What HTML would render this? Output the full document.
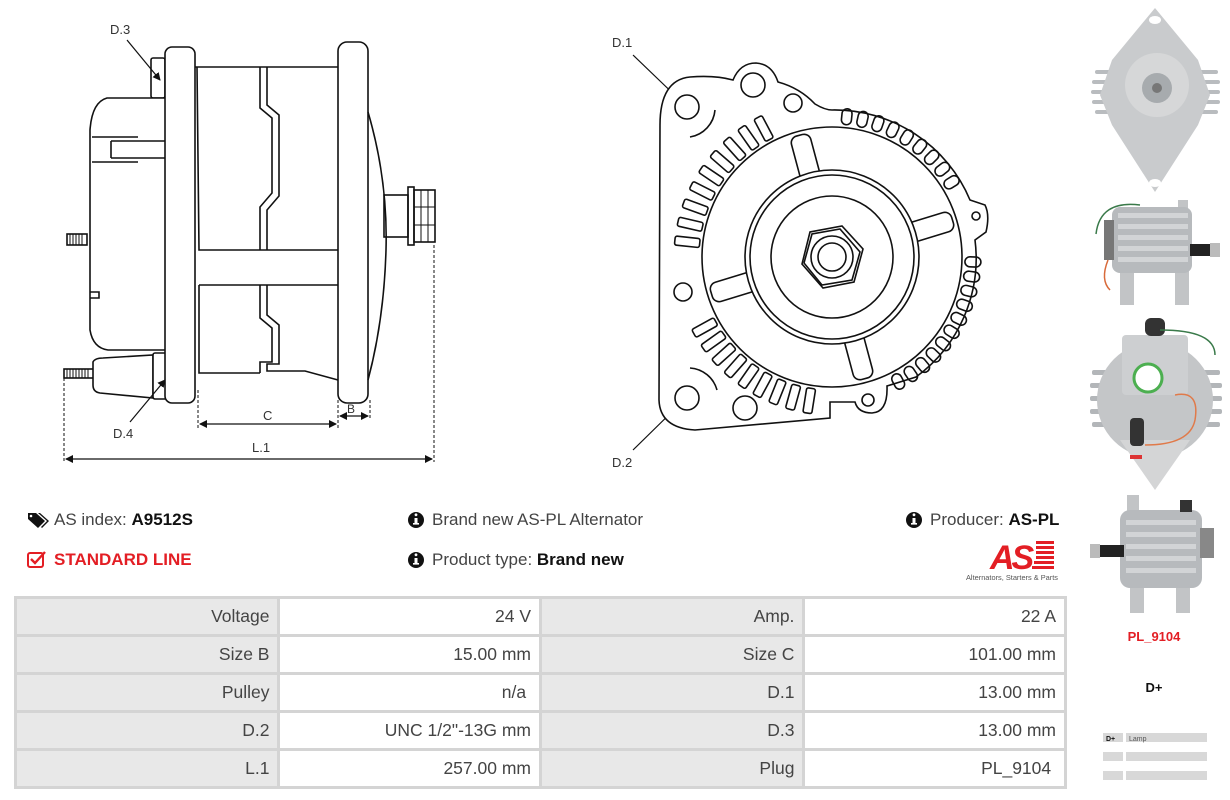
<!DOCTYPE html>
<html><head><meta charset="utf-8">
<style>
*{margin:0;padding:0;box-sizing:border-box}
body{width:1230px;height:800px;background:#fff;position:relative;overflow:hidden;font-family:"Liberation Sans",Arial,sans-serif;color:#444}
.t{position:absolute;font-size:17px;white-space:nowrap}
.t b{color:#111}
table{position:absolute;left:14px;top:596px;border-collapse:collapse;width:1053px}
td{border:3px solid #d4d4d4;height:38px;font-size:17.5px;text-align:right;padding-right:8px;color:#444}
td.g{background:#e8e8e8;width:264px}
td.w{background:#fff;width:262px}
</style></head><body>
<svg width="1230" height="800" style="position:absolute;left:0;top:0" fill="none" stroke="#111" stroke-width="1.6" font-family="Liberation Sans, sans-serif">
<defs><marker id="ar" markerWidth="8" markerHeight="8" refX="7" refY="4" orient="auto" markerUnits="userSpaceOnUse"><path d="M0,0 L8,4 L0,8 z" fill="#111" stroke="none"/></marker>
<marker id="as" markerWidth="8" markerHeight="8" refX="1" refY="4" orient="auto" markerUnits="userSpaceOnUse"><path d="M8,0 L0,4 L8,8 z" fill="#111" stroke="none"/></marker></defs>
<!-- SIDE VIEW -->
<rect x="151" y="58" width="14" height="40" rx="2"/>
<path d="M165,98 L107,98 Q92,102 90,130 L90,330 Q93,348 108,350 L165,350" fill="#fff"/>
<path d="M92,137 L138,137 M92,162 L138,162 M111,141 L165,141 M111,158 L165,158 M111,141 L111,158"/>
<path d="M90,292 L99,292 L99,298 L90,298"/>
<rect x="67" y="234" width="20" height="11"/>
<path d="M70,234v11M73,234v11M76,234v11M79,234v11M82,234v11" stroke-width="1"/>
<rect x="64" y="369" width="30" height="9"/>
<path d="M67,369v9M70,369v9M73,369v9M76,369v9M79,369v9M82,369v9M85,369v9M88,369v9" stroke-width="1"/>
<path d="M93,362 Q95,358 103,358 L153,355 L153,398 L100,393 Q93,392 93,385 Z" fill="#fff"/>
<rect x="153" y="353" width="14" height="46" rx="2" fill="#fff"/>
<rect x="165" y="47" width="30" height="356" rx="7" fill="#fff"/>
<path d="M195,67 L338,67 M197,67 L199,250 L338,250 M199,285 L338,285 M199,285 L199,373 L260,373"/>
<path d="M260,67 L260,108 L272,118 L272,193 L260,207 L260,250 M260,285 L260,318 L272,328 L272,362 L260,362 L260,373"/>
<path d="M267,67 L267,105 L279,115 L279,196 L267,210 L267,250 M267,285 L267,315 L279,325 L279,364 L267,364 L267,371 L305,371 L338,380"/>
<rect x="338" y="42" width="30" height="361" rx="9" fill="#fff"/>
<path d="M368,112 Q388,180 386,250 Q384,320 368,380"/>
<rect x="384" y="195" width="24" height="42"/>
<rect x="408" y="187" width="6" height="58"/>
<rect x="414" y="190" width="21" height="52"/>
<path d="M414,207 L435,207 M414,225 L435,225 M421,190 L421,242 M428,190 L428,242" stroke-width="1"/>
<!-- dims -->
<g stroke-width="1" stroke-dasharray="3,2"><path d="M64,378 L64,462 M434,245 L434,462 M198,390 L198,428 M338,400 L338,428 M370,400 L370,420"/></g>
<g stroke-width="1.2"><path d="M66,459 L432,459" marker-end="url(#ar)" marker-start="url(#as)"/>
<path d="M200,424 L336,424" marker-end="url(#ar)" marker-start="url(#as)"/>
<path d="M340,416 L368,416" marker-end="url(#ar)" marker-start="url(#as)"/>
<path d="M127,40 L160,80" marker-end="url(#ar)"/>
<path d="M130,422 L165,380" marker-end="url(#ar)"/>
<path d="M633,55 L685,105" marker-end="url(#ar)"/>
<path d="M633,450 L684,400" marker-end="url(#ar)"/></g>
<g fill="#333" stroke="none" font-size="13"><text x="110" y="34">D.3</text><text x="113" y="438">D.4</text><text x="263" y="420">C</text><text x="347" y="413" font-size="12">B</text><text x="252" y="452">L.1</text><text x="612" y="47">D.1</text><text x="612" y="467">D.2</text></g>
<!-- FRONT VIEW -->
<path d="M660,125 Q660,80 690,77 Q715,75 733,80 Q740,63 756,63 Q772,64 778,82 Q800,88 815,104 Q825,110 832,110 A147,147 0 0 1 970,200 L985,205 Q990,215 986,232 L975,240 A147,147 0 0 1 916,377 L887,386 Q888,412 872,413 Q858,413 855,402 L830,402 L830,418 L695,430 Q660,428 659,400 Z" fill="#fff"/>
<path d="M715,110 A30,30 0 0 1 690,137 M717,390 A30,30 0 0 0 690,368"/>
<circle cx="687" cy="107" r="12"/><circle cx="687" cy="398" r="12"/>
<circle cx="753" cy="85" r="12"/><circle cx="793" cy="103" r="9"/>
<circle cx="683" cy="292" r="9"/><circle cx="745" cy="408" r="12"/>
<circle cx="868" cy="400" r="6"/><circle cx="976" cy="216" r="4"/>
<g>
<rect x="965" y="252.5" width="25" height="9" rx="2" transform="rotate(186 832 257)"/>
<rect x="965" y="252.5" width="25" height="9" rx="2" transform="rotate(193 832 257)"/>
<rect x="965" y="252.5" width="25" height="9" rx="2" transform="rotate(200 832 257)"/>
<rect x="965" y="252.5" width="25" height="9" rx="2" transform="rotate(207 832 257)"/>
<rect x="965" y="252.5" width="25" height="9" rx="2" transform="rotate(214 832 257)"/>
<rect x="965" y="252.5" width="25" height="9" rx="2" transform="rotate(221 832 257)"/>
<rect x="965" y="252.5" width="25" height="9" rx="2" transform="rotate(228 832 257)"/>
<rect x="965" y="252.5" width="25" height="9" rx="2" transform="rotate(235 832 257)"/>
<rect x="965" y="252.5" width="25" height="9" rx="2" transform="rotate(242 832 257)"/>
<rect x="965" y="252.5" width="25" height="9" rx="2" transform="rotate(151 832 257)"/>
<rect x="965" y="252.5" width="25" height="9" rx="2" transform="rotate(144.5 832 257)"/>
<rect x="965" y="252.5" width="25" height="9" rx="2" transform="rotate(138 832 257)"/>
<rect x="965" y="252.5" width="25" height="9" rx="2" transform="rotate(131.5 832 257)"/>
<rect x="965" y="252.5" width="25" height="9" rx="2" transform="rotate(125 832 257)"/>
<rect x="965" y="252.5" width="25" height="9" rx="2" transform="rotate(118.5 832 257)"/>
<rect x="965" y="252.5" width="25" height="9" rx="2" transform="rotate(112 832 257)"/>
<rect x="965" y="252.5" width="25" height="9" rx="2" transform="rotate(105.5 832 257)"/>
<rect x="965" y="252.5" width="25" height="9" rx="2" transform="rotate(99 832 257)"/>
</g>
<g>
<rect x="965" y="252" width="16" height="10" rx="5" transform="rotate(-84 832 257)"/>
<rect x="965" y="252" width="16" height="10" rx="5" transform="rotate(-77.5 832 257)"/>
<rect x="965" y="252" width="16" height="10" rx="5" transform="rotate(-71 832 257)"/>
<rect x="965" y="252" width="16" height="10" rx="5" transform="rotate(-64.5 832 257)"/>
<rect x="965" y="252" width="16" height="10" rx="5" transform="rotate(-58 832 257)"/>
<rect x="965" y="252" width="16" height="10" rx="5" transform="rotate(-51.5 832 257)"/>
<rect x="965" y="252" width="16" height="10" rx="5" transform="rotate(-45 832 257)"/>
<rect x="965" y="252" width="16" height="10" rx="5" transform="rotate(-38.5 832 257)"/>
<rect x="965" y="252" width="16" height="10" rx="5" transform="rotate(-32 832 257)"/>
<rect x="965" y="252" width="16" height="10" rx="5" transform="rotate(2 832 257)"/>
<rect x="965" y="252" width="16" height="10" rx="5" transform="rotate(8 832 257)"/>
<rect x="965" y="252" width="16" height="10" rx="5" transform="rotate(14 832 257)"/>
<rect x="965" y="252" width="16" height="10" rx="5" transform="rotate(20 832 257)"/>
<rect x="965" y="252" width="16" height="10" rx="5" transform="rotate(26 832 257)"/>
<rect x="965" y="252" width="16" height="10" rx="5" transform="rotate(32 832 257)"/>
<rect x="965" y="252" width="16" height="10" rx="5" transform="rotate(38 832 257)"/>
<rect x="965" y="252" width="16" height="10" rx="5" transform="rotate(44 832 257)"/>
<rect x="965" y="252" width="16" height="10" rx="5" transform="rotate(50 832 257)"/>
<rect x="965" y="252" width="16" height="10" rx="5" transform="rotate(56 832 257)"/>
<rect x="965" y="252" width="16" height="10" rx="5" transform="rotate(62 832 257)"/>
</g>
<circle cx="832" cy="257" r="130" fill="#fff"/>
<g fill="#fff">
<rect x="912" y="247" width="46" height="20" rx="7" transform="rotate(-105 832 257)"/>
<rect x="912" y="247" width="46" height="20" rx="7" transform="rotate(-17 832 257)"/>
<rect x="912" y="247" width="46" height="20" rx="7" transform="rotate(163 832 257)"/>
<rect x="912" y="247" width="46" height="20" rx="7" transform="rotate(75 832 257)"/>
</g>
<circle cx="832" cy="257" r="87" fill="#fff"/>
<circle cx="832" cy="257" r="82"/>
<circle cx="832" cy="257" r="61"/>
<polygon points="863,249 854,282 823,288 802,264 810,232 842,226" fill="#fff"/>
<polygon points="860,252 852,280 822,285 804,263 812,234 840,229"/>
<circle cx="832" cy="257" r="21"/><circle cx="832" cy="257" r="14"/>
<!-- PHOTOS -->
<g stroke="none">
<g fill="#b9bcbf"><rect x="1095" y="70" width="20" height="4" rx="2"/><rect x="1092" y="80" width="22" height="4" rx="2"/><rect x="1091" y="90" width="22" height="4" rx="2"/><rect x="1092" y="100" width="22" height="4" rx="2"/><rect x="1095" y="110" width="20" height="4" rx="2"/>
<rect x="1198" y="70" width="20" height="4" rx="2"/><rect x="1198" y="80" width="22" height="4" rx="2"/><rect x="1198" y="90" width="22" height="4" rx="2"/><rect x="1198" y="100" width="22" height="4" rx="2"/><rect x="1198" y="110" width="20" height="4" rx="2"/></g>
<polygon points="1155,8 1198,60 1210,95 1198,125 1155,192 1112,125 1100,95 1112,60" fill="#c9cbcd"/>
<circle cx="1157" cy="85" r="32" fill="#d6d7d8"/><circle cx="1157" cy="88" r="15" fill="#a7abae"/><circle cx="1157" cy="88" r="5" fill="#777"/>
<ellipse cx="1155" cy="20" rx="6" ry="4" fill="#fff"/><ellipse cx="1155" cy="183" rx="6" ry="4" fill="#fff"/>
<rect x="1120" y="268" width="14" height="37" fill="#c2c4c6"/><rect x="1175" y="268" width="14" height="37" fill="#c2c4c6"/><rect x="1178" y="200" width="10" height="12" fill="#c2c4c6"/>
<rect x="1112" y="207" width="80" height="66" rx="8" fill="#b7babd"/>
<g fill="#d2d4d6"><rect x="1118" y="213" width="70" height="5"/><rect x="1118" y="224" width="70" height="5"/><rect x="1118" y="235" width="70" height="5"/><rect x="1118" y="246" width="70" height="5"/><rect x="1118" y="257" width="70" height="5"/></g>
<rect x="1190" y="244" width="22" height="12" fill="#222"/><rect x="1210" y="243" width="10" height="14" fill="#bbb"/>
<rect x="1104" y="220" width="10" height="40" fill="#777"/>
<path d="M1096,234 Q1100,200 1140,205" stroke="#3a7a4a" stroke-width="1.5" fill="none"/><path d="M1108,260 Q1100,280 1110,290" stroke="#d86a3a" stroke-width="1.5" fill="none"/>
<g fill="#b3b6b9"><rect x="1092" y="370" width="40" height="5" rx="2"/><rect x="1090" y="383" width="40" height="5" rx="2"/><rect x="1090" y="396" width="40" height="5" rx="2"/><rect x="1090" y="409" width="40" height="5" rx="2"/><rect x="1092" y="422" width="40" height="5" rx="2"/>
<rect x="1180" y="370" width="40" height="5" rx="2"/><rect x="1182" y="383" width="40" height="5" rx="2"/><rect x="1182" y="396" width="40" height="5" rx="2"/><rect x="1182" y="409" width="40" height="5" rx="2"/><rect x="1180" y="422" width="40" height="5" rx="2"/></g>
<circle cx="1155" cy="400" r="58" fill="#c4c6c8"/>
<polygon points="1120,440 1190,440 1155,490" fill="#d4d5d6"/>
<rect x="1122" y="335" width="66" height="60" rx="4" fill="#cdcfd1"/>
<circle cx="1148" cy="378" r="14" fill="#fff" stroke="#4caf50" stroke-width="3"/>
<rect x="1145" y="318" width="20" height="18" rx="6" fill="#333"/><rect x="1130" y="418" width="14" height="28" rx="4" fill="#333"/>
<path d="M1160,330 Q1215,330 1215,355" stroke="#3a7a4a" stroke-width="1.5" fill="none"/><path d="M1175,395 Q1200,390 1195,420 Q1190,445 1145,445" stroke="#e07a4a" stroke-width="1.5" fill="none"/>
<rect x="1130" y="455" width="12" height="4" fill="#d33"/>
<rect x="1127" y="495" width="12" height="20" fill="#c2c4c6"/>
<rect x="1130" y="585" width="14" height="28" fill="#c2c4c6"/><rect x="1176" y="585" width="14" height="28" fill="#c2c4c6"/>
<rect x="1120" y="510" width="82" height="78" rx="10" fill="#b7babd"/>
<g fill="#d2d4d6"><rect x="1126" y="520" width="70" height="5"/><rect x="1126" y="532" width="70" height="5"/><rect x="1126" y="544" width="70" height="5"/><rect x="1126" y="556" width="70" height="5"/><rect x="1126" y="568" width="70" height="5"/></g>
<rect x="1098" y="545" width="26" height="12" fill="#222"/><rect x="1090" y="544" width="10" height="14" fill="#bbb"/>
<rect x="1200" y="528" width="14" height="30" fill="#888"/><rect x="1180" y="500" width="12" height="12" fill="#333"/>
</g>
<!-- logo -->
<g stroke="none" fill="#e31e24">
<text x="990" y="569" font-size="34" font-weight="bold" font-style="italic" letter-spacing="-3">AS</text>
<rect x="1036" y="541" width="18" height="3"/><rect x="1036" y="546" width="18" height="3"/><rect x="1036" y="551" width="18" height="3"/><rect x="1036" y="556" width="18" height="3"/><rect x="1034" y="561" width="20" height="3"/><rect x="1032" y="566" width="22" height="3"/>
</g>
<text x="966" y="580" font-size="7.4" fill="#555" stroke="none">Alternators, Starters &amp; Parts</text>
<!-- icons -->
<g stroke="none" fill="#111">
<path d="M28,513 L36,513 L45,521 L38,528 L28,519 Z"/><path d="M38,513 L40,513 L49,521 L42,528 L41,527 L47,521 Z"/><circle cx="31" cy="516" r="1.3" fill="#fff"/>
<circle cx="416" cy="520" r="8"/><circle cx="416" cy="560" r="8"/><circle cx="914" cy="520" r="8"/>
</g>
<g fill="#fff" stroke="none"><rect x="414.5" y="518" width="3" height="6"/><rect x="413" y="523" width="6" height="1.6"/><circle cx="416" cy="514.8" r="1.4"/>
<rect x="414.5" y="558" width="3" height="6"/><rect x="413" y="563" width="6" height="1.6"/><circle cx="416" cy="554.8" r="1.4"/>
<rect x="912.5" y="518" width="3" height="6"/><rect x="911" y="523" width="6" height="1.6"/><circle cx="914" cy="514.8" r="1.4"/></g>
<rect x="28" y="553" width="15" height="14" rx="2" stroke="#e31e24" stroke-width="2"/>
<path d="M31,559 L35,563 L45,552" stroke="#e31e24" stroke-width="2.4"/>
<!-- plug table -->
<g stroke="none" fill="#d8d8d8"><rect x="1103" y="733" width="20" height="9"/><rect x="1126" y="733" width="81" height="9"/><rect x="1103" y="752" width="20" height="9"/><rect x="1126" y="752" width="81" height="9"/><rect x="1103" y="771" width="20" height="9"/><rect x="1126" y="771" width="81" height="9"/></g>
<text x="1106" y="741" font-size="7" font-weight="bold" fill="#111" stroke="none">D+</text>
<text x="1129" y="741" font-size="7" fill="#555" stroke="none">Lamp</text>
<text x="1154" y="641" font-size="13" font-weight="bold" fill="#e31e24" stroke="none" text-anchor="middle">PL_9104</text>
<text x="1154" y="692" font-size="13" font-weight="bold" fill="#111" stroke="none" text-anchor="middle">D+</text>
</svg>
<div class="t" style="left:54px;top:510px">AS index: <b>A9512S</b></div>
<div class="t" style="left:54px;top:550px;color:#e31e24;font-weight:bold">STANDARD LINE</div>
<div class="t" style="left:432px;top:510px">Brand new AS-PL Alternator</div>
<div class="t" style="left:432px;top:550px">Product type: <b>Brand new</b></div>
<div class="t" style="left:930px;top:510px">Producer: <b>AS-PL</b></div>
<table>
<tr><td class="g">Voltage</td><td class="w">24 V</td><td class="g">Amp.</td><td class="w">22 A</td></tr>
<tr><td class="g">Size B</td><td class="w">15.00 mm</td><td class="g">Size C</td><td class="w">101.00 mm</td></tr>
<tr><td class="g">Pulley</td><td class="w">n/a&nbsp;</td><td class="g">D.1</td><td class="w">13.00 mm</td></tr>
<tr><td class="g">D.2</td><td class="w">UNC 1/2"-13G mm</td><td class="g">D.3</td><td class="w">13.00 mm</td></tr>
<tr><td class="g">L.1</td><td class="w">257.00 mm</td><td class="g">Plug</td><td class="w">PL_9104&nbsp;</td></tr>
</table>
</body></html>
